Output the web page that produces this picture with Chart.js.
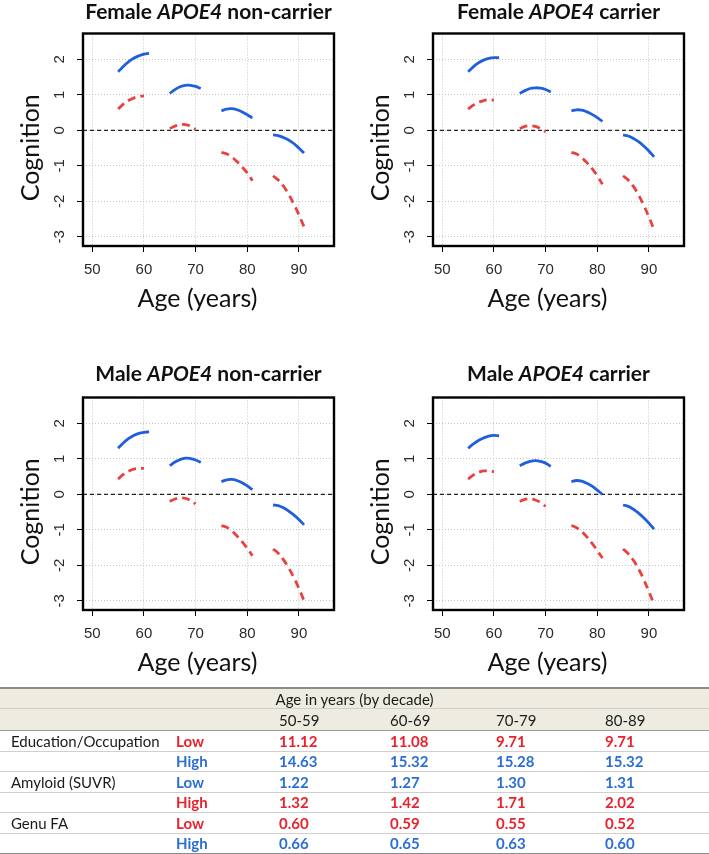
<!DOCTYPE html>
<html>
<head>
<meta charset="utf-8">
<script src="https://cdn.jsdelivr.net/npm/chart.js@4.4.1/dist/chart.umd.min.js"></script>
<style>
  html, body { margin: 0; padding: 0; background: #fff; }
  body { width: 709px; height: 854px; position: relative; overflow: hidden; font-family: Lato, 'Noto Sans', sans-serif; }
  .panel { position: absolute; width: 354px; height: 340px; }
  #stats { position: absolute; left: 0; top: 687px; width: 709px; border-collapse: collapse; table-layout: fixed; font-size: 15px; color: #1a1a1a; }
  #stats td { padding: 0; white-space: nowrap; border-bottom: 1px solid #cfcfcf; }
  #stats tr.head td { background: #eeece1; }
  #stats tr.top td { border-top: 2px solid #8c8c8c; height: 19px; text-align: center; }
  #stats tr.dec td { height: 21px; border-bottom: 1px solid #9a9a9a; }
  #stats tr.row td { height: 19.5px; }
  #stats tr.last td { border-bottom: 2px solid #8c8c8c; }
  #stats td.lab { padding-left: 11px; }
  #stats td.val, #stats td.lvl { font-weight: bold; }
  .red { color: #e8232d; }
  .blue { color: #2b6fd6; }
</style>
</head>
<body>
<div class="panel" style="left:0;top:0"><canvas id="panel0" width="354" height="340"></canvas></div>
<div class="panel" style="left:350px;top:0"><canvas id="panel1" width="354" height="340"></canvas></div>
<div class="panel" style="left:0;top:364px"><canvas id="panel2" width="354" height="340"></canvas></div>
<div class="panel" style="left:350px;top:364px"><canvas id="panel3" width="354" height="340"></canvas></div>
<table id="stats"></table>
<script>
// Ages of each decade segment (high = solid blue, low = dashed red)
const highAges = [[55, 56, 57, 58, 59, 60, 61], [65, 66, 67, 68, 69, 70, 71], [75, 76, 77, 78, 79, 80, 81], [85, 86, 87, 88, 89, 90, 91]];
const lowAges = [[55, 56, 57, 58, 59, 60], [65, 66, 67, 68, 69, 70], [75, 76, 77, 78, 79, 80, 81], [85, 86, 87, 88, 89, 90, 91]];

const femaleNonCarrierHigh = [[1.65, 1.80, 1.93, 2.03, 2.10, 2.15, 2.17], [1.04, 1.15, 1.23, 1.27, 1.27, 1.24, 1.18], [0.55, 0.60, 0.61, 0.58, 0.52, 0.44, 0.35], [-0.13, -0.15, -0.20, -0.27, -0.37, -0.50, -0.64]];
const femaleNonCarrierLow = [[0.60, 0.74, 0.84, 0.91, 0.95, 0.97], [0.05, 0.12, 0.16, 0.16, 0.12, 0.03], [-0.62, -0.66, -0.75, -0.88, -1.03, -1.20, -1.42], [-1.28, -1.40, -1.57, -1.80, -2.07, -2.38, -2.72]];
const femaleCarrierHigh = [[1.65, 1.79, 1.90, 1.98, 2.03, 2.05, 2.05], [1.04, 1.12, 1.18, 1.20, 1.19, 1.15, 1.08], [0.55, 0.58, 0.57, 0.52, 0.45, 0.36, 0.25], [-0.13, -0.16, -0.23, -0.32, -0.44, -0.58, -0.75]];
const femaleCarrierLow = [[0.60, 0.71, 0.79, 0.84, 0.86, 0.85], [0.05, 0.11, 0.13, 0.11, 0.05, -0.04], [-0.62, -0.67, -0.77, -0.91, -1.08, -1.28, -1.52], [-1.28, -1.40, -1.58, -1.82, -2.11, -2.44, -2.80]];
const maleNonCarrierHigh = [[1.30, 1.45, 1.57, 1.66, 1.72, 1.75, 1.76], [0.81, 0.91, 0.98, 1.02, 1.01, 0.97, 0.90], [0.36, 0.41, 0.42, 0.39, 0.33, 0.24, 0.13], [-0.30, -0.32, -0.38, -0.47, -0.58, -0.71, -0.86]];
const maleNonCarrierLow = [[0.43, 0.56, 0.65, 0.71, 0.73, 0.73], [-0.20, -0.13, -0.10, -0.11, -0.17, -0.27], [-0.88, -0.93, -1.03, -1.17, -1.33, -1.52, -1.73], [-1.54, -1.66, -1.84, -2.07, -2.34, -2.65, -3.00]];
const maleCarrierHigh = [[1.30, 1.42, 1.52, 1.59, 1.64, 1.66, 1.65], [0.81, 0.88, 0.93, 0.95, 0.93, 0.88, 0.79], [0.36, 0.39, 0.37, 0.31, 0.23, 0.12, 0.00], [-0.30, -0.34, -0.42, -0.53, -0.66, -0.81, -0.98]];
const maleCarrierLow = [[0.43, 0.54, 0.62, 0.66, 0.66, 0.64], [-0.20, -0.14, -0.13, -0.16, -0.23, -0.34], [-0.88, -0.94, -1.05, -1.20, -1.38, -1.58, -1.80], [-1.54, -1.67, -1.86, -2.10, -2.40, -2.74, -3.10]];

const xTicks = [50, 60, 70, 80, 90];
const yTicks = [-3, -2, -1, 0, 1, 2];

const panelSex = ['Female', 'Female', 'Male', 'Male'];
const panelStatus = ['non-carrier', 'carrier', 'non-carrier', 'carrier'];

// Table below the plots
const decades = ['50-59', '60-69', '70-79', '80-89'];
const eduLow = [11.12, 11.08, 9.71, 9.71];
const eduHigh = [14.63, 15.32, 15.28, 15.32];
const amyloidLow = [1.22, 1.27, 1.30, 1.31];
const amyloidHigh = [1.32, 1.42, 1.71, 2.02];
const genuLow = [0.60, 0.59, 0.55, 0.52];
const genuHigh = [0.66, 0.65, 0.63, 0.60];

const BLUE = '#1f5fdc';
const RED = '#e8423f';
const TICK_FONT = '15px "Liberation Sans", Arial, sans-serif';
const LABEL_FONT = '25px Lato, "Noto Sans", sans-serif';

const rStyle = {
    id: 'rStyle',
    beforeDatasetsDraw(chart) {
        const { ctx, chartArea: a, scales: { y } } = chart;
        const y0 = y.getPixelForValue(0);
        ctx.save();
        ctx.strokeStyle = '#222';
        ctx.lineWidth = 1.2;
        ctx.setLineDash([4, 3]);
        ctx.beginPath();
        ctx.moveTo(a.left, y0);
        ctx.lineTo(a.right, y0);
        ctx.stroke();
        ctx.restore();
    },
    afterDraw(chart, args, opts) {
        const { ctx, chartArea: a, scales: { x, y } } = chart;
        ctx.save();
        // box
        ctx.strokeStyle = '#000';
        ctx.lineWidth = 2.4;
        ctx.strokeRect(a.left, a.top, a.right - a.left, a.bottom - a.top);

        // tick labels
        ctx.fillStyle = '#2a2a2a';
        ctx.font = TICK_FONT;
        ctx.textAlign = 'center';
        ctx.textBaseline = 'middle';
        x.ticks.forEach(t => ctx.fillText(String(t.value), x.getPixelForValue(t.value), a.bottom + 24));
        y.ticks.forEach(t => {
            ctx.save();
            ctx.translate(a.left - 23, y.getPixelForValue(t.value));
            ctx.rotate(-Math.PI / 2);
            ctx.fillText(String(t.value), 0, 0);
            ctx.restore();
        });

        // axis titles
        ctx.fillStyle = '#111';
        ctx.font = LABEL_FONT;
        ctx.textBaseline = 'alphabetic';
        ctx.fillText('Age (years)', (a.left + a.right) / 2 - 11, 307);
        ctx.save();
        ctx.translate(31, (a.top + a.bottom) / 2 + 8);
        ctx.rotate(-Math.PI / 2);
        ctx.textBaseline = 'middle';
        ctx.fillText('Cognition', 0, 0);
        ctx.restore();

        // panel title, gene name in italics
        const parts = [
            [opts.sex + ' ', 'bold 21px Lato, sans-serif'],
            ['APOE4', 'italic bold 21px Lato, sans-serif'],
            [' ' + opts.status, 'bold 21px Lato, sans-serif']
        ];
        let total = 0;
        parts.forEach(p => { ctx.font = p[1]; total += ctx.measureText(p[0]).width; });
        let cx = (a.left + a.right) / 2 - total / 2;
        ctx.textAlign = 'left';
        ctx.fillStyle = '#111';
        parts.forEach(p => {
            ctx.font = p[1];
            ctx.fillText(p[0], cx, opts.titleY);
            cx += ctx.measureText(p[0]).width;
        });
        ctx.restore();
    }
};

function segments(ages, values, color, dash) {
    return ages.map((seg, i) => ({
        data: seg.map((age, j) => ({ x: age, y: values[i][j] })),
        borderColor: color,
        borderWidth: 2.8,
        borderDash: dash,
        borderCapStyle: 'butt',
        pointRadius: 0,
        tension: 0.4,
        fill: false
    }));
}

function makePanel(id, high, low, idx) {
    const grid = {
        color: '#c4c4c4',
        lineWidth: 1,
        drawTicks: true,
        tickLength: 6,
        tickColor: '#000',
        tickBorderDash: []
    };
    new Chart(document.getElementById(id), {
        type: 'line',
        data: { datasets: segments(lowAges, low, RED, [8, 5]).concat(segments(highAges, high, BLUE, [])) },
        options: {
            responsive: false,
            animation: false,
            layout: { padding: { top: 33.5, right: 20, left: 0, bottom: 0 } },
            scales: {
                x: {
                    type: 'linear', min: 48.2, max: 96.8,
                    afterBuildTicks: s => { s.ticks = xTicks.map(v => ({ value: v })); },
                    afterFit: s => { s.height = 94; },
                    ticks: { display: false },
                    grid: grid,
                    border: { display: false, dash: [1, 2] }
                },
                y: {
                    type: 'linear', min: -3.26, max: 2.73,
                    afterBuildTicks: s => { s.ticks = yTicks.map(v => ({ value: v })); },
                    afterFit: s => { s.width = 83; },
                    ticks: { display: false },
                    grid: grid,
                    border: { display: false, dash: [1, 2] }
                }
            },
            plugins: {
                legend: { display: false },
                tooltip: { enabled: false },
                rStyle: { sex: panelSex[idx], status: panelStatus[idx], titleY: idx < 2 ? 19 : 17 }
            }
        },
        plugins: [rStyle]
    });
}

function buildTable() {
    const fmt = v => v.toFixed(2);
    const rows = [
        ['Education/Occupation', 'Low', eduLow, 'red'],
        ['', 'High', eduHigh, 'blue'],
        ['Amyloid (SUVR)', 'Low', amyloidLow, 'blue'],
        ['', 'High', amyloidHigh, 'red'],
        ['Genu FA', 'Low', genuLow, 'red'],
        ['', 'High', genuHigh, 'blue']
    ];
    let html = '<colgroup><col style="width:176px"><col style="width:103px"><col style="width:111px">' +
        '<col style="width:106px"><col style="width:109px"><col style="width:104px"></colgroup>';
    html += '<tr class="head top"><td colspan="6">Age in years (by decade)</td></tr>';
    html += '<tr class="head dec"><td></td><td></td>' + decades.map(d => '<td>' + d + '</td>').join('') + '</tr>';
    rows.forEach((r, i) => {
        html += '<tr class="row' + (i === rows.length - 1 ? ' last' : '') + '">' +
            '<td class="lab">' + r[0] + '</td>' +
            '<td class="lvl ' + r[3] + '">' + r[1] + '</td>' +
            r[2].map(v => '<td class="val ' + r[3] + '">' + fmt(v) + '</td>').join('') + '</tr>';
    });
    document.getElementById('stats').innerHTML = html;
}

document.addEventListener('DOMContentLoaded', function() {
    makePanel('panel0', femaleNonCarrierHigh, femaleNonCarrierLow, 0);
    makePanel('panel1', femaleCarrierHigh, femaleCarrierLow, 1);
    makePanel('panel2', maleNonCarrierHigh, maleNonCarrierLow, 2);
    makePanel('panel3', maleCarrierHigh, maleCarrierLow, 3);
    buildTable();
});
</script>
</body>
</html>
